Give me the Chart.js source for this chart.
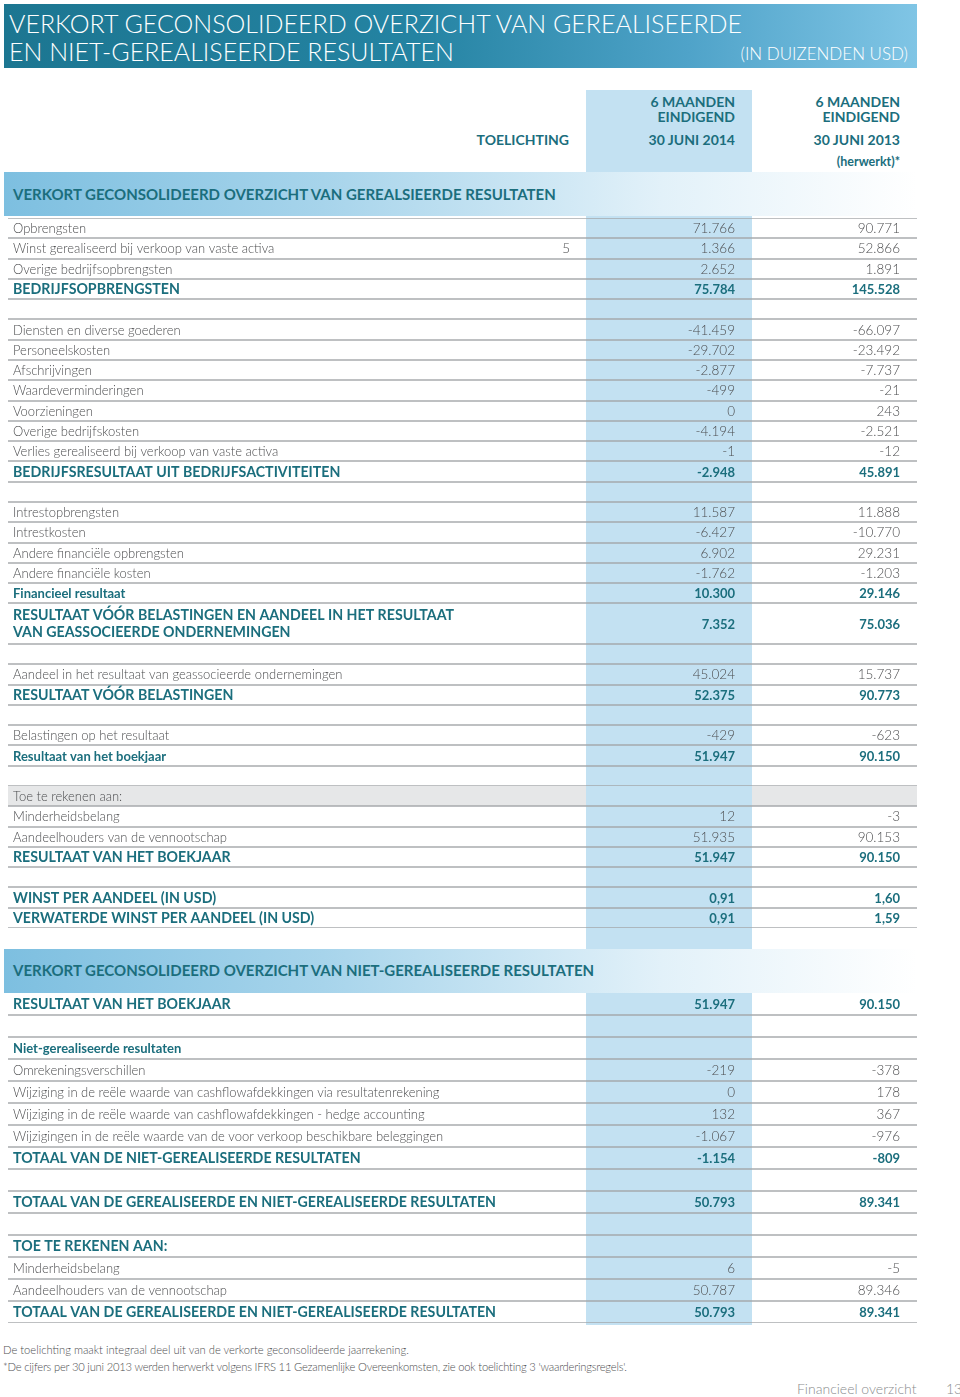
<!DOCTYPE html>
<html>
<head>
<meta charset="utf-8">
<script src="https://cdn.jsdelivr.net/npm/chart.js@4.4.1/dist/chart.umd.min.js"></script>
<style>
  body { margin: 0; background: #fff; font-family: Lato, sans-serif; }
  #page { position: relative; width: 960px; height: 1397px; overflow: hidden; }
  .abs { position: absolute; white-space: nowrap; }
  #col2014 { position: absolute; left: 586px; top: 90px; width: 166px; height: 1235px; background: #c3e1f2; z-index: 0; }
  #titleBand { position: absolute; left: 4px; top: 4px; width: 913px; height: 64px; z-index: 2;
    background: linear-gradient(to right, #1c7691 0%, #2483a2 45%, #4fa3c9 75%, #80c5e5 100%); }
  .title { color: #fff; font-weight: 300; font-size: 25px; line-height: 25px; }
  .unit { color: #fff; font-weight: 300; font-size: 17px; line-height: 17px; }
  .band { position: absolute; left: 4px; width: 913px; height: 44px; z-index: 2;
    background: linear-gradient(to right, #7dbfe0 0%, #a7d4eb 35%, #e2f1f9 72%, #ffffff 100%); }
  .band span { position: absolute; left: 9px; color: #1b6e7d; font-weight: 700; font-size: 15px; line-height: 15px; white-space: nowrap; }
  .head { color: #1b6e7d; font-weight: 700; font-size: 14px; line-height: 14px; z-index: 3; text-align: right; }
  .small { font-size: 12.5px; line-height: 12.5px; }
  .note { color: #4d4e50; font-weight: 300; font-size: 11.2px; line-height: 11.2px; }
  .foot { color: #8a8c8e; font-weight: 300; font-size: 14px; line-height: 14px; }
  canvas { position: absolute; left: 0; z-index: 1; }
</style>
</head>
<body>
<div id="page">
  <div id="col2014"></div>

  <div id="titleBand">
    <div class="abs title" style="left:5px; top:7px;">VERKORT GECONSOLIDEERD OVERZICHT VAN GEREALISEERDE</div>
    <div class="abs title" style="left:5px; top:35px;">EN NIET-GEREALISEERDE RESULTATEN</div>
    <div class="abs unit" style="right:9px; top:41px;">(IN DUIZENDEN USD)</div>
  </div>

  <div class="abs head" style="right:391px; top:133px;">TOELICHTING</div>
  <div class="abs head" style="right:225px; top:95px;">6 MAANDEN</div>
  <div class="abs head" style="right:225px; top:110px;">EINDIGEND</div>
  <div class="abs head" style="right:225px; top:133px;">30 JUNI 2014</div>
  <div class="abs head" style="right:60px; top:95px;">6 MAANDEN</div>
  <div class="abs head" style="right:60px; top:110px;">EINDIGEND</div>
  <div class="abs head" style="right:60px; top:133px;">30 JUNI 2013</div>
  <div class="abs head small" style="right:60px; top:156px;">(herwerkt)*</div>

  <div class="band" style="top:172px;"><span style="top:15px;">VERKORT GECONSOLIDEERD OVERZICHT VAN GEREALSIEERDE RESULTATEN</span></div>
  <canvas id="part1" width="960" height="710" style="top:218px;"></canvas>

  <div class="band" style="top:949px;"><span style="top:14px;">VERKORT GECONSOLIDEERD OVERZICHT VAN NIET-GEREALISEERDE RESULTATEN</span></div>
  <canvas id="part2" width="960" height="330" style="top:993px;"></canvas>

  <div class="abs note" style="left:3px; top:1344px;">De toelichting maakt integraal deel uit van de verkorte geconsolideerde jaarrekening.</div>
  <div class="abs note" style="left:3px; top:1361px; letter-spacing:-0.2px;">*De cijfers per 30 juni 2013 werden herwerkt volgens IFRS 11 Gezamenlijke Overeenkomsten, zie ook toelichting 3 'waarderingsregels'.</div>
  <div class="abs foot" style="left:797px; top:1381.5px;">Financieel overzicht</div>
  <div class="abs foot" style="left:946px; top:1381.5px;">13</div>
</div>

<script>
// gerealiseerde resultaten
var labels1 = [
  'Opbrengsten',
  'Winst gerealiseerd bij verkoop van vaste activa',
  'Overige bedrijfsopbrengsten',
  'BEDRIJFSOPBRENGSTEN',
  '',
  'Diensten en diverse goederen',
  'Personeelskosten',
  'Afschrijvingen',
  'Waardeverminderingen',
  'Voorzieningen',
  'Overige bedrijfskosten',
  'Verlies gerealiseerd bij verkoop van vaste activa',
  'BEDRIJFSRESULTAAT UIT BEDRIJFSACTIVITEITEN',
  '',
  'Intrestopbrengsten',
  'Intrestkosten',
  'Andere financiële opbrengsten',
  'Andere financiële kosten',
  'Financieel resultaat',
  ['RESULTAAT VÓÓR BELASTINGEN EN AANDEEL IN HET RESULTAAT', 'VAN GEASSOCIEERDE ONDERNEMINGEN'],
  '',
  'Aandeel in het resultaat van geassocieerde ondernemingen',
  'RESULTAAT VÓÓR BELASTINGEN',
  '',
  'Belastingen op het resultaat',
  'Resultaat van het boekjaar',
  '',
  'Toe te rekenen aan:',
  'Minderheidsbelang',
  'Aandeelhouders van de vennootschap',
  'RESULTAAT VAN HET BOEKJAAR',
  '',
  'WINST PER AANDEEL (IN USD)',
  'VERWATERDE WINST PER AANDEEL (IN USD)'
];
var notes1 = ['', '5'];
var values2014_1 = [71766, 1366, 2652, 75784, null, -41459, -29702, -2877, -499, 0, -4194, -1, -2948, null,
  11587, -6427, 6902, -1762, 10300, 7352, null, 45024, 52375, null, -429, 51947, null,
  null, 12, 51935, 51947, null, 0.91, 0.91];
var values2013_1 = [90771, 52866, 1891, 145528, null, -66097, -23492, -7737, -21, 243, -2521, -12, 45891, null,
  11888, -10770, 29231, -1203, 29146, 75036, null, 15737, 90773, null, -623, 90150, null,
  null, -3, 90153, 90150, null, 1.60, 1.59];

// niet-gerealiseerde resultaten
var labels2 = [
  'RESULTAAT VAN HET BOEKJAAR',
  '',
  'Niet-gerealiseerde resultaten',
  'Omrekeningsverschillen',
  'Wijziging in de reële waarde van cashflowafdekkingen via resultatenrekening',
  'Wijziging in de reële waarde van cashflowafdekkingen - hedge accounting',
  'Wijzigingen in de reële waarde van de voor verkoop beschikbare beleggingen',
  'TOTAAL VAN DE NIET-GEREALISEERDE RESULTATEN',
  '',
  'TOTAAL VAN DE GEREALISEERDE EN NIET-GEREALISEERDE RESULTATEN',
  '',
  'TOE TE REKENEN AAN:',
  'Minderheidsbelang',
  'Aandeelhouders van de vennootschap',
  'TOTAAL VAN DE GEREALISEERDE EN NIET-GEREALISEERDE RESULTATEN'
];
var notes2 = [];
var values2014_2 = [51947, null, null, -219, 0, 132, -1067, -1154, null, 50793, null, null, 6, 50787, 50793];
var values2013_2 = [90150, null, null, -378, 178, 367, -976, -809, null, 89341, null, null, -5, 89346, 89341];

var subtotalLabels = ['Financieel resultaat', 'Resultaat van het boekjaar', 'Niet-gerealiseerde resultaten'];
var shadedLabels = ['Toe te rekenen aan:'];

var TEAL = '#1b6e7d';
var GREY = '#4d4e50';
var LABEL_FONT = '300 13px Lato', LABEL_CAPS = '700 14.2px Lato', LABEL_SUB = '700 13px Lato';
var NUM_FONT = '300 13.5px Lato', NUM_BOLD = '700 13px Lato';

function fmt(v) {
  if (v === null || v === undefined) return '';
  var a = Math.abs(v);
  var dec = Number.isInteger(a) ? '' : ',' + a.toFixed(2).split('.')[1];
  var whole = Math.floor(a).toString().replace(/\B(?=(\d{3})+(?!\d))/g, '.');
  return (v < 0 ? '-' : '') + whole + dec;
}

function isCaps(text) {
  return /[A-Z]/.test(text) && text === text.toUpperCase();
}

function makeSection(canvasId, labels, notes, v2014, v2013, topLine) {
  // one category slot per text line, multi-line rows take several slots
  var slots = [], cats = [], d2014 = [], d2013 = [];
  labels.forEach(function(lab, i) {
    var lines = [].concat(lab);
    lines.forEach(function(line, k) {
      slots.push({ row: i, k: k, n: lines.length });
      cats.push(k === 0 ? lines.join(' ') : '');
      d2014.push(k === 0 ? v2014[i] : null);
      d2013.push(k === 0 ? v2013[i] : null);
    });
  });

  var tablePlugin = {
    id: 'statementTable',
    afterDraw: function(chart) {
      var ctx = chart.ctx, ys = chart.scales.y;
      var pitch = ys.getPixelForValue(1) - ys.getPixelForValue(0);
      ctx.save();

      slots.forEach(function(s, j) {
        if (s.k !== 0) return;
        var lines = [].concat(labels[s.row]);
        var text = lines.join(' ');
        var top = ys.getPixelForValue(j) - pitch / 2;
        var bottom = ys.getPixelForValue(j + s.n - 1) + pitch / 2;
        var mid = (top + bottom) / 2;

        if (shadedLabels.indexOf(text) >= 0) {
          ctx.fillStyle = '#e6e7e8';
          ctx.fillRect(8, top, 909, bottom - top);
          ctx.fillStyle = '#c3e1f2';
          ctx.fillRect(586, top, 166, bottom - top);
        }

        ctx.fillStyle = '#a3a5a8';
        if (j === 0 && topLine) ctx.fillRect(8, Math.round(top) - 0.7, 909, 1.4);
        ctx.fillRect(8, Math.round(bottom) - 0.7, 909, 1.4);

        var caps = isCaps(text), sub = subtotalLabels.indexOf(text) >= 0;
        var emph = caps || sub;
        ctx.textBaseline = 'alphabetic';
        ctx.textAlign = 'left';
        ctx.font = caps ? LABEL_CAPS : (sub ? LABEL_SUB : LABEL_FONT);
        ctx.fillStyle = emph ? TEAL : GREY;
        lines.forEach(function(line, k) {
          ctx.fillText(line, 13, mid + 5 + (k - (lines.length - 1) / 2) * 17);
        });

        ctx.textAlign = 'right';
        if (notes[s.row]) {
          ctx.font = NUM_FONT;
          ctx.fillStyle = GREY;
          ctx.fillText(notes[s.row], 570, mid + 5);
        }
        ctx.font = emph ? NUM_BOLD : NUM_FONT;
        ctx.fillStyle = emph ? TEAL : GREY;
        ctx.fillText(fmt(v2014[s.row]), 735, mid + 5);
        ctx.fillText(fmt(v2013[s.row]), 900, mid + 5);
      });
      ctx.restore();
    }
  };

  return new Chart(document.getElementById(canvasId), {
    type: 'bar',
    data: {
      labels: cats,
      datasets: [
        { label: '30 juni 2014', data: d2014, backgroundColor: 'rgba(0,0,0,0)', borderWidth: 0 },
        { label: '30 juni 2013', data: d2013, backgroundColor: 'rgba(0,0,0,0)', borderWidth: 0 }
      ]
    },
    options: {
      indexAxis: 'y',
      responsive: false,
      animation: false,
      events: [],
      layout: { padding: 0 },
      plugins: { legend: { display: false }, tooltip: { enabled: false } },
      scales: {
        x: { display: false },
        y: { display: false, offset: true }
      }
    },
    plugins: [tablePlugin]
  });
}

Promise.all([
  document.fonts.load('300 14px Lato'),
  document.fonts.load('700 14px Lato')
]).catch(function() {}).then(function() {
  makeSection('part1', labels1, notes1, values2014_1, values2013_1, true);
  makeSection('part2', labels2, notes2, values2014_2, values2013_2, false);
});
</script>
</body>
</html>
